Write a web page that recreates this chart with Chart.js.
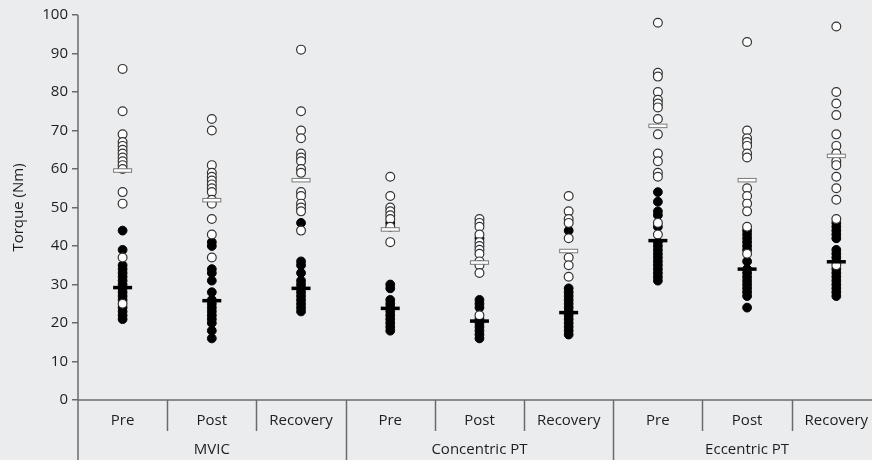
<!DOCTYPE html>
<html lang="en">
<head>
    <meta charset="UTF-8">
    <title>Torque</title>
    <style>
        html, body {
            margin: 0;
            padding: 0;
            background-color: #ebecee;
        }
        #wrap {
            width: 872px;
            height: 460px;
        }
    </style>
    <script src="https://cdn.jsdelivr.net/npm/chart.js"></script>
</head>
<body>
    <div id="wrap"><canvas id="torqueChart" width="872" height="460"></canvas></div>
    <script>
        const categories = ['Pre', 'Post', 'Recovery'];
        const groups = ['MVIC', 'Concentric PT', 'Eccentric PT'];
        const yTicks = [0, 10, 20, 30, 40, 50, 60, 70, 80, 90, 100];

        // one list per column, left to right
        const openValues = [
            [86, 75, 69, 67, 66, 65, 64, 63, 62, 61, 60, 54, 51, 37, 25],
            [73, 70, 61, 59, 58, 57, 56, 55, 54, 52, 51, 47, 43, 37],
            [91, 75, 70, 68, 64, 63, 62, 60, 59, 54, 53, 51, 50, 49, 44],
            [58, 53, 50, 49, 48, 47, 45, 41],
            [47, 46, 45, 43, 41, 40, 39, 38, 36, 35, 33, 22],
            [53, 49, 47, 46, 42, 37, 35, 32],
            [98, 85, 84, 80, 78, 77, 76, 73, 69, 64, 62, 59, 58, 46, 43],
            [93, 70, 68, 67, 66, 64, 63, 55, 53, 51, 49, 45, 38],
            [97, 80, 77, 74, 69, 66, 64, 62, 61, 58, 55, 52, 47, 35]
        ];
        const filledValues = [
            [44, 39, 35, 34, 33, 32, 31, 30, 29, 28, 27, 26, 24, 23, 22, 21],
            [41, 40, 34, 33, 31, 28, 26, 25, 24, 23, 22, 21, 20, 18, 16],
            [46, 36, 35, 33, 31, 30, 29, 28, 27, 26, 25, 24, 23],
            [46, 30, 29, 26, 25, 24, 23, 22, 21, 20, 19, 18],
            [42, 26, 25, 24, 21, 20, 19, 18, 17, 16],
            [44, 29, 28, 27, 26, 25, 24, 23, 22, 21, 20, 19, 18, 17],
            [54, 51.5, 49, 48, 45, 41, 40, 39, 38, 37, 36, 35, 34, 33, 32, 31],
            [44, 43, 42, 41, 40, 39, 36, 34, 33, 32, 31, 30, 29, 28, 27, 24],
            [46, 45, 44, 43, 42, 39, 38, 37, 36, 34, 33, 32, 31, 30, 29, 28, 27]
        ];
        const openMeans = [59.6, 51.9, 57.1, 44.3, 35.7, 38.7, 71.2, 57.1, 63.4];
        const filledMeans = [29.2, 25.8, 29.0, 23.8, 20.5, 22.7, 41.4, 34.0, 35.9];

        const FONT = '"Open Sans", "Noto Sans", sans-serif';
        const AXIS = '#6b6b6b';
        const TEXT = '#1e1e1e';

        function toPoints(lists) {
            const pts = [];
            lists.forEach((list, i) => list.forEach(v => pts.push({ x: i, y: v })));
            return pts;
        }
        const meanPoints = arr => arr.map((v, i) => ({ x: i, y: v }));

        // x axis: category labels, separators and group names under the plot
        const groupAxis = {
            id: 'groupAxis',
            afterDraw(chart) {
                const ctx = chart.ctx;
                const x = chart.scales.x;
                const y = chart.scales.y;
                const area = chart.chartArea;
                const y0 = y.getPixelForValue(0);
                const H = chart.height;
                ctx.save();
                ctx.strokeStyle = AXIS;
                ctx.lineWidth = 1.5;
                ctx.beginPath();
                ctx.moveTo(area.left, y0);
                ctx.lineTo(chart.width, y0);
                ctx.moveTo(area.left, area.top);
                ctx.lineTo(area.left, H);
                const n = groups.length * categories.length;
                for (let k = 1; k < n; k++) {
                    const px = Math.round(x.getPixelForValue(k - 0.5)) + 0.5;
                    const long = k % categories.length === 0;
                    ctx.moveTo(px, y0);
                    ctx.lineTo(px, long ? H : y0 + 31);
                }
                ctx.stroke();

                ctx.fillStyle = TEXT;
                ctx.font = '15px ' + FONT;
                ctx.textAlign = 'center';
                ctx.textBaseline = 'middle';
                for (let k = 0; k < n; k++) {
                    ctx.fillText(categories[k % categories.length], x.getPixelForValue(k), y0 + 21);
                }
                groups.forEach((g, j) => {
                    const c = j * categories.length + (categories.length - 1) / 2;
                    ctx.fillText(g, x.getPixelForValue(c), y0 + 50);
                });
                ctx.restore();
            }
        };

        // first dataset in the list ends up on top
        new Chart(document.getElementById('torqueChart'), {
            type: 'scatter',
            data: {
                datasets: [
                    {
                        label: 'filled mean',
                        data: meanPoints(filledMeans),
                        pointStyle: 'line',
                        pointRadius: 9.5,
                        pointBorderWidth: 3.5,
                        pointBorderColor: '#000'
                    },
                    {
                        label: 'open mean',
                        data: meanPoints(openMeans),
                        pointStyle: 'line',
                        pointRadius: 8.5,
                        pointBorderWidth: 2.5,
                        pointBorderColor: '#fff'
                    },
                    {
                        label: 'open mean edge',
                        data: meanPoints(openMeans),
                        pointStyle: 'line',
                        pointRadius: 9.5,
                        pointBorderWidth: 4.5,
                        pointBorderColor: '#7a7a7a'
                    },
                    {
                        label: 'open',
                        data: toPoints(openValues),
                        pointRadius: 4.4,
                        pointBorderWidth: 1.2,
                        pointBackgroundColor: '#fff',
                        pointBorderColor: '#333'
                    },
                    {
                        label: 'filled',
                        data: toPoints(filledValues),
                        pointRadius: 4.4,
                        pointBorderWidth: 1,
                        pointBackgroundColor: '#000',
                        pointBorderColor: '#000'
                    }
                ]
            },
            options: {
                responsive: false,
                animation: false,
                layout: { autoPadding: false, padding: { top: 15, bottom: 60, right: 0, left: 0 } },
                plugins: {
                    legend: { display: false },
                    tooltip: { enabled: false }
                },
                scales: {
                    x: {
                        type: 'linear',
                        min: -0.5,
                        max: 8.4,
                        display: false
                    },
                    y: {
                        min: 0,
                        max: 100,
                        afterBuildTicks: scale => { scale.ticks = yTicks.map(v => ({ value: v })); },
                        afterFit: scale => { scale.width = 78; },
                        ticks: {
                            color: TEXT,
                            font: { family: FONT, size: 15 },
                            padding: 4
                        },
                        grid: {
                            drawOnChartArea: false,
                            tickLength: 6,
                            color: AXIS,
                            lineWidth: 1.5
                        },
                        border: { display: false },
                        title: {
                            display: true,
                            text: 'Torque (Nm)',
                            color: TEXT,
                            font: { family: FONT, size: 15 },
                            padding: { top: 10, bottom: 0 }
                        }
                    }
                }
            },
            plugins: [groupAxis]
        });
    </script>
</body>
</html>
